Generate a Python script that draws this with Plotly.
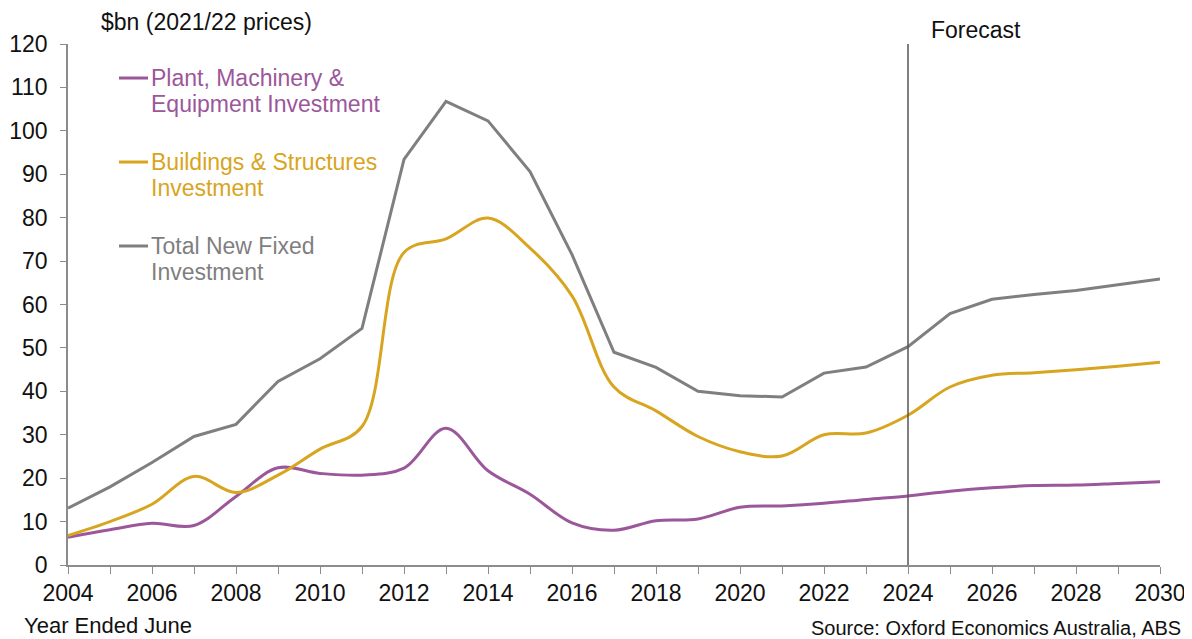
import plotly.graph_objects as go

years = list(range(2004, 2031))

plant = [6.4, 8.1, 9.6, 9.1, 15.8, 22.4, 21.1, 20.7, 22.3, 31.5, 21.7, 16.3, 9.7,
         8.0, 10.2, 10.6, 13.3, 13.6, 14.2, 15.1, 15.9, 17.0, 17.8, 18.3, 18.4, 18.8, 19.2]
buildings = [6.8, 10.0, 14.0, 20.4, 16.7, 20.7, 26.7, 31.9, 72.0, 75.1, 79.9, 73.0, 62.0,
             41.0, 35.5, 29.6, 26.1, 25.1, 30.0, 30.4, 34.5, 41.0, 43.7, 44.3, 45.0, 45.8, 46.7]
total = [13.1, 18.0, 23.6, 29.6, 32.4, 42.3, 47.5, 54.5, 93.4, 106.8, 102.3, 90.6, 71.5,
         49.0, 45.5, 40.0, 39.0, 38.7, 44.2, 45.6, 50.3, 57.9, 61.2, 62.3, 63.2, 64.5, 65.9]

series_labels = [["Plant, Machinery &", "Equipment Investment"],
                 ["Buildings & Structures", "Investment"],
                 ["Total New Fixed", "Investment"]]
colors = ["#9B579A", "#D8A521", "#7F7F7F"]
forecast_year = 2024

FONT = "Liberation Sans, Arial, sans-serif"
AXIS_COL = "#8C8C8C"
TXT = "#111111"

fig = go.Figure()

fig.add_trace(go.Scatter(x=years, y=plant, mode="lines",
                         line=dict(color=colors[0], width=3, shape="spline", smoothing=1)))
fig.add_trace(go.Scatter(x=years, y=buildings, mode="lines",
                         line=dict(color=colors[1], width=3, shape="spline", smoothing=1)))
fig.add_trace(go.Scatter(x=years, y=total, mode="lines",
                         line=dict(color=colors[2], width=3)))

# hand-drawn legend: short line + two-line label, top-left inside the plot
legend_y = [0.9347, 0.7735, 0.6123]
line_gap = 0.0499
shapes = []
annotations = []
for lines, col, ly in zip(series_labels, colors, legend_y):
    shapes.append(dict(type="line", xref="paper", yref="paper",
                       x0=0.0467, x1=0.0733, y0=ly, y1=ly,
                       line=dict(color=col, width=3)))
    for i, txt in enumerate(lines):
        annotations.append(dict(text=txt, xref="paper", yref="paper",
                                x=0.0745, y=ly - i * line_gap, xanchor="left", yanchor="middle",
                                align="left", showarrow=False,
                                font=dict(size=23, color=col, family=FONT)))

# forecast divider
shapes.append(dict(type="line", xref="x", yref="paper", x0=forecast_year, x1=forecast_year,
                   y0=0, y1=1, line=dict(color="#555555", width=1.5)))

annotations += [
    dict(text="Forecast", xref="paper", yref="paper", x=0.7885, y=1.0269,
         xanchor="left", yanchor="middle", showarrow=False,
         font=dict(size=23, color=TXT, family=FONT)),
    dict(text="$bn (2021/22 prices)", xref="paper", yref="paper", x=0.0285, y=1.0422,
         xanchor="left", yanchor="middle", showarrow=False,
         font=dict(size=23, color=TXT, family=FONT)),
    dict(text="Year Ended June", xref="paper", yref="paper", x=-0.0420, y=-0.117,
         xanchor="left", yanchor="middle", showarrow=False,
         font=dict(size=22, color=TXT, family=FONT)),
    dict(text="Source: Oxford Economics Australia, ABS", xref="paper", yref="paper",
         x=1.0208, y=-0.121, xanchor="right", yanchor="middle", showarrow=False,
         font=dict(size=20, color=TXT, family=FONT)),
]

# the page body adds an 8px margin, so the figure is 8px smaller than the window
fig.update_layout(
    width=1184, height=631,
    margin=dict(l=60, r=32, t=36, b=74),
    paper_bgcolor="white", plot_bgcolor="white",
    showlegend=False,
    font=dict(family=FONT, size=23, color=TXT),
    shapes=shapes,
    annotations=annotations,
    xaxis=dict(range=[2004, 2030], tickmode="linear", tick0=2004, dtick=2, automargin=False,
               showgrid=False, zeroline=False, showline=True, linecolor=AXIS_COL, linewidth=1.5,
               ticks="outside", ticklen=7, tickcolor=AXIS_COL, tickwidth=1.2,
               minor=dict(dtick=1, tick0=2004, ticks="outside", ticklen=7, tickcolor=AXIS_COL,
                          tickwidth=1.2, showgrid=False),
               tickfont=dict(size=23, family=FONT, color=TXT)),
    yaxis=dict(range=[0, 120], tickmode="linear", tick0=0, dtick=10, automargin=False,
               showgrid=False, zeroline=False, showline=True, linecolor=AXIS_COL, linewidth=1.5,
               ticks="outside", ticklen=6, tickcolor=AXIS_COL, tickwidth=1.2,
               ticklabelstandoff=8,
               tickfont=dict(size=23, family=FONT, color=TXT)),
)

fig.write_html("out.html")
